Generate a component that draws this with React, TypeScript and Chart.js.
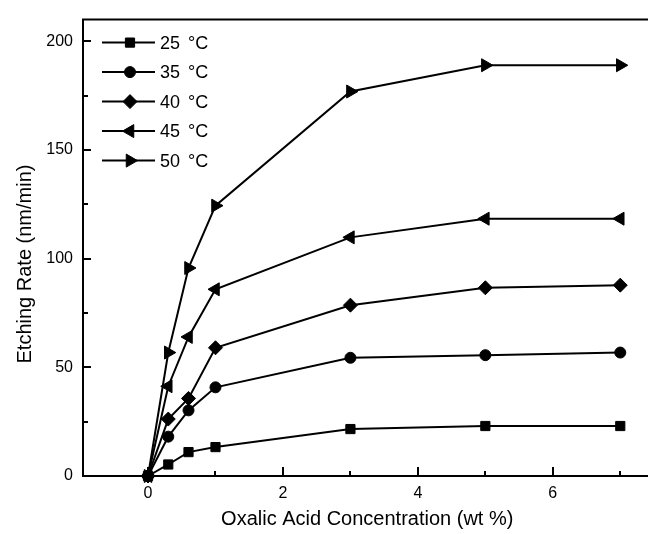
import React, { useEffect, useRef } from "react";
import { Chart, registerables } from "chart.js";
import { drawPoint } from "chart.js/helpers";

Chart.register(...registerables);

// ---- data ----
const CONCENTRATION = [0, 0.3, 0.6, 1, 3, 5, 7];
const RATE_25C = [0, 5.3, 11, 13.3, 21.6, 23, 23];
const RATE_35C = [0, 18.1, 30.2, 40.8, 54.4, 55.6, 56.8];
const RATE_40C = [0, 26.2, 35.7, 59, 78.6, 86.6, 87.8];
const RATE_45C = [0, 41.3, 64, 85.9, 109.8, 118.4, 118.4];
const RATE_50C = [0, 56.8, 95.7, 124.4, 176.9, 189, 189];
const SERIES_LABELS = ["25 \u00B0C", "35 \u00B0C", "40 \u00B0C", "45 \u00B0C", "50 \u00B0C"];
const SERIES_MARKERS = ["rect", "circle", "rectRot", "triangle", "triangle"];
const SERIES_ROTATIONS = [0, 0, 0, -90, 90];
const SERIES_RADII = [6.5, 5.5, 7, 7.5, 7.5];
const X_TICKS = [0, 1, 2, 3, 4, 5, 6, 7];
const X_TICK_LABELS = [0, 2, 4, 6];
const Y_TICKS = [0, 25, 50, 75, 100, 125, 150, 175, 200];
const Y_TICK_LABELS = [0, 50, 100, 150, 200];
const X_TITLE = "Oxalic Acid Concentration (wt %)";
const Y_TITLE = "Etching Rate (nm/min)";

const FONT_FAMILY = "'Liberation Sans', Arial, Helvetica, sans-serif";

const frameAndTicks = {
  id: "frameAndTicks",
  afterDraw(chart: any) {
    const { ctx, chartArea } = chart;
    const xs = chart.scales.x;
    const ys = chart.scales.y;
    ctx.save();
    ctx.strokeStyle = "#000";
    ctx.lineWidth = 2;
    ctx.beginPath();
    ctx.moveTo(chart.width + 5, chartArea.top);
    ctx.lineTo(chartArea.left, chartArea.top);
    ctx.lineTo(chartArea.left, chartArea.bottom);
    ctx.lineTo(chart.width + 5, chartArea.bottom);
    ctx.stroke();
    ctx.lineWidth = 2;
    ctx.beginPath();
    X_TICKS.forEach((v) => {
      const px = Math.round(xs.getPixelForValue(v));
      const len = X_TICK_LABELS.includes(v) ? 9 : 5;
      ctx.moveTo(px, chartArea.bottom);
      ctx.lineTo(px, chartArea.bottom - len);
    });
    Y_TICKS.forEach((v) => {
      const py = Math.round(ys.getPixelForValue(v));
      const len = Y_TICK_LABELS.includes(v) ? 8 : 5;
      ctx.moveTo(chartArea.left, py);
      ctx.lineTo(chartArea.left + len, py);
    });
    ctx.stroke();

    // axis titles
    ctx.fillStyle = "#000";
    ctx.font = `20px ${FONT_FAMILY}`;
    ctx.textAlign = "center";
    ctx.textBaseline = "middle";
    ctx.fillText(X_TITLE, (chartArea.left + chartArea.right) / 2 + 6, 519);
    ctx.save();
    ctx.translate(25, 264);
    ctx.rotate(-Math.PI / 2);
    ctx.fillText(Y_TITLE, 0, 0);
    ctx.restore();

    // legend
    const lx0 = chartArea.left + 19;
    const lx1 = chartArea.left + 72;
    const mx = chartArea.left + 47;
    ctx.font = `18px ${FONT_FAMILY}`;
    ctx.textAlign = "left";
    chart.data.datasets.forEach((ds: any, i: number) => {
      const ly = chartArea.top + 23 + i * 29.5;
      ctx.strokeStyle = "#000";
      ctx.lineWidth = 2;
      ctx.beginPath();
      ctx.moveTo(lx0, ly);
      ctx.lineTo(lx1, ly);
      ctx.stroke();
      ctx.fillStyle = "#000";
      ctx.lineWidth = 1;
      drawPoint(ctx, { pointStyle: ds.pointStyle, rotation: ds.pointRotation, radius: ds.pointRadius, borderWidth: 1 }, mx, ly);
      ctx.fillStyle = "#000";
      const [num, unit] = String(ds.label).split(" ");
      const tx = lx1 + 5;
      ctx.fillText(num, tx, ly + 1);
      ctx.fillText(unit, tx + ctx.measureText(num).width + 8, ly + 1);
    });
    ctx.restore();
  },
};

export default function App() {
  const ref = useRef<HTMLCanvasElement | null>(null);
  useEffect(() => {
    if (!ref.current) return;
    const series = [RATE_25C, RATE_35C, RATE_40C, RATE_45C, RATE_50C];
    const chart = new Chart(ref.current, {
      type: "line",
      data: {
        datasets: series.map((vals, i) => ({
          label: SERIES_LABELS[i],
          data: CONCENTRATION.map((c, j) => ({ x: c, y: vals[j] })),
          borderColor: "#000",
          backgroundColor: "#000",
          borderWidth: 2,
          pointStyle: SERIES_MARKERS[i] as any,
          pointRotation: SERIES_ROTATIONS[i],
          pointRadius: SERIES_RADII[i],
          pointBackgroundColor: "#000",
          pointBorderColor: "#000",
          pointBorderWidth: 1,
          tension: 0,
          clip: false as any,
        })),
      },
      options: {
        responsive: false,
        animation: false,
        devicePixelRatio: 1,
        layout: { padding: { top: 13, left: 0, right: 0, bottom: 0 } },
        plugins: { legend: { display: false }, tooltip: { enabled: false } },
        scales: {
          x: {
            type: "linear",
            min: -0.964,
            max: 7.285,
            grid: { display: false, drawTicks: false },
            border: { display: false },
            afterBuildTicks: (s: any) => {
              s.ticks = X_TICKS.map((v) => ({ value: v }));
            },
            afterFit: (s: any) => {
              s.height = 58;
            },
            ticks: {
              autoSkip: false,
              maxRotation: 0,
              padding: 8,
              color: "#000",
              font: { family: FONT_FAMILY, size: 16 },
              callback: (v: any) => (X_TICK_LABELS.includes(Number(v)) ? String(v) : ""),
            },
          },
          y: {
            type: "linear",
            min: 0,
            max: 210,
            grid: { display: false, drawTicks: false },
            border: { display: false },
            afterBuildTicks: (s: any) => {
              s.ticks = Y_TICKS.map((v) => ({ value: v }));
            },
            afterFit: (s: any) => {
              s.width = 83;
            },
            ticks: {
              autoSkip: false,
              padding: 10,
              color: "#000",
              font: { family: FONT_FAMILY, size: 16 },
              callback: (v: any) => (Y_TICK_LABELS.includes(Number(v)) ? String(v) : ""),
            },
          },
        },
      },
      plugins: [frameAndTicks],
    });
    return () => chart.destroy();
  }, []);

  return (
    <div style={{ position: "fixed", left: 0, top: 0, width: 648, height: 534, background: "#fff" }}>
      <canvas ref={ref} width={648} height={534} style={{ width: 648, height: 534 }} />
    </div>
  );
}
